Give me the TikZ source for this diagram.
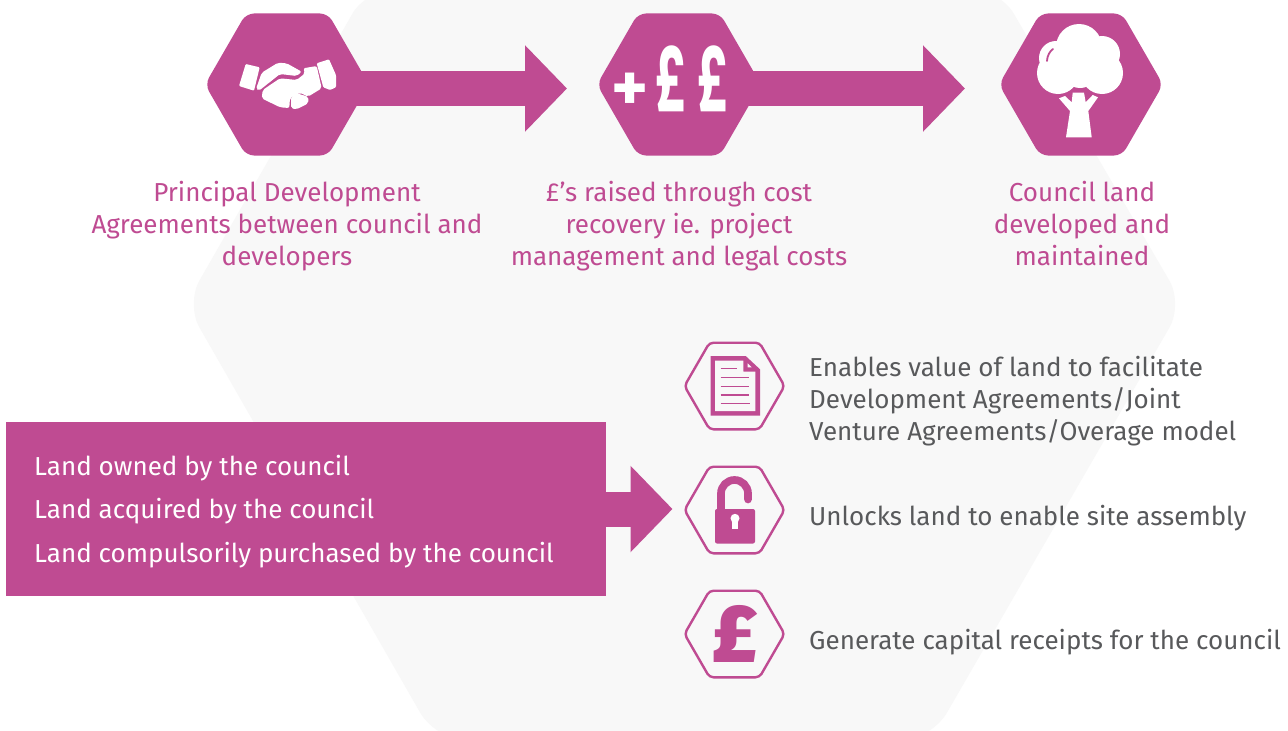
\documentclass[tikz,border=0pt]{standalone}
\usepackage{fontspec}
\usetikzlibrary{arrows.meta,shapes.geometric,calc}
\setmainfont[LetterSpace=0]{Fira Sans}
\newfontfamily\iconfont[UprightFont=* Bold]{Fira Sans}
\newfontfamily\ftfont[UprightFont=* Bold]{Poppins}
\newfontfamily\poundfont[UprightFont=* Black]{Fira Sans}
\definecolor{plum}{HTML}{BF4B92}
\definecolor{pale}{HTML}{F8F8F8}
\definecolor{slate}{HTML}{58595B}
\tikzset{
  x=1pt,y=-1pt,
  bighex/.style={regular polygon,regular polygon sides=6,minimum size=164pt,inner sep=0pt,outer sep=0pt,fill=plum,draw=none,rounded corners=8pt},
  smallhex/.style={regular polygon,regular polygon sides=6,minimum size=100pt,inner sep=0pt,outer sep=0pt,draw=plum,line width=2.4pt,fill=none,rounded corners=4pt},
  bigarrow/.style={draw=plum,line width=35pt,-{Triangle[length=42pt,width=84pt]}},
  toplabel/.style={text=plum,font=\fontsize{26}{32}\selectfont,align=center,anchor=north,inner sep=0pt},
  sidelabel/.style={text=slate,font=\fontsize{26}{32}\selectfont,align=left,anchor=west,inner sep=0pt},
  landbox/.style={fill=plum,text=white,minimum width=600pt,minimum height=174pt,inner sep=0pt,outer sep=0pt},
  landtext/.style={text=white,font=\fontsize{26}{32}\selectfont,anchor=west,inner sep=0pt},
  glyph/.style={fill=white,draw=none},
  pglyph/.style={fill=plum,draw=none},
}
\begin{document}
\begin{tikzpicture}
\useasboundingbox (0,0) rectangle (1288,731);
\fill[white] (0,0) rectangle (1288,731);
\begin{scope}
\clip (0,0) rectangle (1288,731);
\fill[pale,rounded corners=27pt] (366,-10) -- (1000,-10) -- (1183,304) [rounded corners=34pt] -- (930,742) -- (437,742) [rounded corners=27pt] -- (186,304) -- cycle;
\end{scope}
\node[bighex] (hexa) at (287,84.5) {};
\node[bighex] (hexb) at (679,84.5) {};
\node[bighex] (hexc) at (1081,84.5) {};
\draw[bigarrow,shorten >=30pt] ([shift={(-25pt,-4pt)}]hexa.east) -- ([yshift=-4pt]hexb.west);
\draw[bigarrow,shorten >=34pt] ([shift={(-25pt,-4pt)}]hexb.east) -- ([yshift=-4pt]hexc.west);
\node[anchor=base west,text=white,inner sep=0pt] (pounds) at (611,111) {{\iconfont\fontsize{70}{70}\selectfont +}\hspace{7pt}\ftfont\fontsize{88}{88}\selectfont\scalebox{0.55}[1]{£}\hspace{10pt}\scalebox{0.55}[1]{£}};
% handshake
\fill[glyph,rounded corners=1pt] (245.7,64) -- (259.7,67.3) -- (254,90.7) -- (239,86) -- cycle;
\fill[glyph,rounded corners=1pt] (316.7,63.3) -- (329,59.3) -- (336,75) -- (336,87.3) -- (330,90) -- (323.3,87.3) -- cycle;
\fill[glyph,rounded corners=2pt] (256,89) -- (261.7,72.7) -- (278,62.7) -- (286.7,63.3) -- (301.7,71.7) -- (296.7,76) -- (280,74) -- (259,90.7) -- cycle;
\fill[glyph,rounded corners=2pt] (303.3,68.3) -- (316.7,66) -- (321.7,88.3) -- (308,96.7) -- (300,92.7) -- (290,98) -- (289.3,108) -- (280,107.3) -- (261.7,98.3) -- (262.7,90) -- (280,78.3) -- (296.7,80) -- (305,73.3) -- cycle;
\fill[glyph,rounded corners=2pt] (291,96.7) -- (296.7,93.3) -- (308.3,96.7) -- (308.3,103.3) -- (296.7,109.3) -- (291,108.3) -- cycle;
% tree
\fill[glyph] (1056,58) circle (17);
\fill[glyph] (1102,54) circle (18);
\fill[glyph] (1079,47) circle (23);
\fill[glyph] (1058,73) circle (21);
\fill[glyph] (1102,73) circle (21);
\fill[glyph] (1080,70) circle (18);
\draw[plum,line width=1.8pt,line cap=round] (1047,61) .. controls (1047,56) and (1050,51) .. (1053,49);
\fill[glyph] (1059,98.3) -- (1065,96) -- (1071.7,102.3) -- (1072.7,92.7) -- (1084,92.7) -- (1085.7,102.3) -- (1092.7,95) -- (1098,97.3) -- (1088.3,111) -- (1091.7,137.3) -- (1066,137.3) -- (1070,111) -- cycle;
% document
\fill[pglyph] (710.7,356) -- (745.7,356) -- (760,369.3) -- (760,415.7) -- (710.7,415.7) -- cycle;
\fill[pale] (715,360.7) -- (743.3,360.7) -- (743.3,371.7) -- (755.3,371.7) -- (755.3,411) -- (715,411) -- cycle;
\fill[pale] (747.7,363.3) -- (751.7,367.3) -- (747.7,367.3) -- cycle;
\foreach \yy/\xe in {368.3/736.7,377.7/749,386.3/749,395/749,403.7/750}{\draw[plum,line width=1.5pt] (720.7,\yy) -- (\xe,\yy);}
% lock
\fill[pglyph,rounded corners=2pt] (715,509) -- (755,509) -- (755,543.5) -- (715,543.5) -- cycle;
\draw[plum,line width=7.7pt,line cap=round] (721,509) -- (721,493.5) arc[start angle=180,end angle=360,radius=13.5] -- (748,499.5);
\fill[white] (735,518.3) circle (4.5);
\fill[white] (732,520) rectangle (738,529);
\node[text=plum,inner sep=0pt] (pound) at (735,634) {\poundfont\fontsize{82}{82}\selectfont £};
\node[smallhex] (hexd) at (734.5,386) {};
\node[smallhex] (hexe) at (734.5,510) {};
\node[smallhex] (hexf) at (734.5,634) {};
\node[landbox] (land) at (306,509) {};
\draw[bigarrow,shorten >=12pt] (land.east) -- (land.east -| hexe.west);
\node[toplabel] (la) at (287,181) {Principal Development\\Agreements between council and\\developers};
\node[toplabel] (lb) at (679,181) {£’s raised through cost\\recovery ie. project\\management and legal costs};
\node[toplabel] (lc) at (1082,181) {Council land\\developed and\\maintained};
\node[sidelabel] (ld) at (809,401) {Enables value of land to facilitate\\Development Agreements/Joint\\Venture Agreements/Overage model};
\node[sidelabel] (le) at (809,518) {Unlocks land to enable site assembly};
\node[sidelabel] (lf) at (809,642) {Generate capital receipts for the council};
\node[landtext] (ta) at (34,468) {Land owned by the council};
\node[landtext] (tb) at (34,511) {Land acquired by the council};
\node[landtext] (tc) at (34,555) {Land compulsorily purchased by the council};
\end{tikzpicture}
\end{document}
